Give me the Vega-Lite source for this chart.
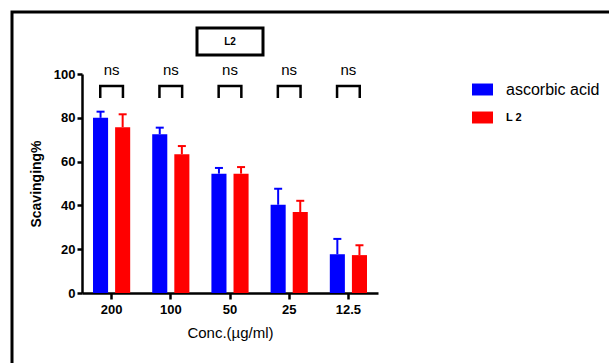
{
  "$schema": "https://vega.github.io/schema/vega-lite/v6.json",
  "autosize": {"type": "none"},
  "padding": {"left": 82, "top": 74, "right": 231, "bottom": 70},
  "width": 296,
  "height": 219,
  "background": "white",
  "config": {
    "view": {"stroke": null},
    "font": "Liberation Sans"
  },
  "datasets": {
    "bars": [
      {"conc": "200", "group": "ascorbic acid", "value": 80.0, "upper": 82.8},
      {"conc": "200", "group": "L 2", "value": 75.7, "upper": 81.6},
      {"conc": "100", "group": "ascorbic acid", "value": 72.5, "upper": 75.5},
      {"conc": "100", "group": "L 2", "value": 63.3, "upper": 67.1},
      {"conc": "50", "group": "ascorbic acid", "value": 54.5, "upper": 57.1},
      {"conc": "50", "group": "L 2", "value": 54.5, "upper": 57.5},
      {"conc": "25", "group": "ascorbic acid", "value": 40.3, "upper": 47.6},
      {"conc": "25", "group": "L 2", "value": 37.0, "upper": 42.1},
      {"conc": "12.5", "group": "ascorbic acid", "value": 17.7, "upper": 24.7},
      {"conc": "12.5", "group": "L 2", "value": 17.3, "upper": 21.8}
    ],
    "sig": [
      {"conc": "200", "label": "ns"},
      {"conc": "100", "label": "ns"},
      {"conc": "50", "label": "ns"},
      {"conc": "25", "label": "ns"},
      {"conc": "12.5", "label": "ns"}
    ],
    "box": [{"label": "L2"}]
  },
  "layer": [
    {
      "data": {"name": "bars"},
      "mark": {"type": "bar"},
      "encoding": {
        "x": {
          "field": "conc", "type": "nominal", "sort": null,
          "scale": {"paddingInner": 0.372, "paddingOuter": 0.186},
          "axis": {
            "title": "Conc.(µg/ml)",
            "labelAngle": 0,
            "labelFontSize": 13, "labelFontWeight": "bold", "labelColor": "black",
            "labelPadding": 4,
            "domainColor": "black", "domainWidth": 2.5,
            "tickColor": "black", "tickWidth": 2.5, "tickSize": 6,
            "titleFontSize": 15, "titleFontWeight": "normal", "titleColor": "black",
            "titlePadding": 9
          }
        },
        "xOffset": {"field": "group", "type": "nominal", "sort": ["ascorbic acid", "L 2"], "scale": {"paddingInner": 0.318, "paddingOuter": 0}},
        "y": {
          "field": "value", "type": "quantitative",
          "scale": {"domain": [0, 100], "nice": false},
          "axis": {
            "title": "Scavinging%",
            "values": [0, 20, 40, 60, 80, 100],
            "grid": false,
            "labelFontSize": 13, "labelFontWeight": "bold", "labelColor": "black",
            "labelPadding": 2,
            "domainColor": "black", "domainWidth": 2.5,
            "tickColor": "black", "tickWidth": 2.5, "tickSize": 5,
            "titleFontSize": 14, "titleFontWeight": "bold", "titleColor": "black",
            "titlePadding": 10
          }
        },
        "color": {
          "field": "group", "type": "nominal",
          "sort": ["ascorbic acid", "L 2"],
          "scale": {"domain": ["ascorbic acid", "L 2"], "range": ["#0000ff", "#ff0000"]},
          "legend": {
            "title": null,
            "orient": "none",
            "legendX": 390,
            "legendY": 5,
            "padding": 0,
            "symbolType": "M-1,-0.57H1V0.57H-1Z",
            "symbolSize": 441,
            "symbolStrokeWidth": 0,
            "symbolOpacity": 1,
            "labelFontSize": 16,
            "labelColor": "black",
            "labelOffset": 13,
            "rowPadding": 9,
            "encode": {
              "labels": {
                "update": {
                  "fontWeight": {"signal": "datum.label === 'L 2' ? 'bold' : 'normal'"},
                  "fontSize": {"signal": "datum.label === 'L 2' ? 11 : 16"}
                }
              }
            }
          }
        }
      }
    },
    {
      "data": {"name": "bars"},
      "mark": {"type": "rule", "strokeWidth": 2},
      "encoding": {
        "x": {"field": "conc", "type": "nominal", "sort": null},
        "xOffset": {"field": "group", "type": "nominal", "sort": ["ascorbic acid", "L 2"]},
        "y": {"field": "value", "type": "quantitative"},
        "y2": {"field": "upper"},
        "color": {"field": "group", "type": "nominal", "legend": null}
      }
    },
    {
      "data": {"name": "bars"},
      "mark": {"type": "tick", "size": 8, "thickness": 2, "orient": "horizontal", "opacity": 1},
      "encoding": {
        "x": {"field": "conc", "type": "nominal", "sort": null},
        "xOffset": {"field": "group", "type": "nominal", "sort": ["ascorbic acid", "L 2"]},
        "y": {"field": "upper", "type": "quantitative"},
        "color": {"field": "group", "type": "nominal", "legend": null}
      }
    },
    {
      "data": {"name": "sig"},
      "mark": {"type": "text", "fontSize": 15, "color": "black", "baseline": "middle", "align": "center"},
      "encoding": {
        "x": {"field": "conc", "type": "nominal", "sort": null},
        "y": {"datum": 101.8},
        "text": {"field": "label"}
      }
    },
    {
      "data": {"name": "sig"},
      "mark": {"type": "point", "shape": "M-1,0.53V-0.53H1V0.53", "size": 515, "filled": false, "stroke": "black", "strokeWidth": 2.5, "opacity": 1},
      "encoding": {
        "x": {"field": "conc", "type": "nominal", "sort": null},
        "y": {"datum": 91.8}
      }
    },
    {
      "data": {"name": "box"},
      "mark": {"type": "point", "shape": "M-1,-0.409H1V0.409H-1Z", "size": 4356, "filled": false, "stroke": "black", "strokeWidth": 3, "opacity": 1},
      "encoding": {
        "x": {"datum": "50"},
        "y": {"datum": 114.8}
      }
    },
    {
      "data": {"name": "box"},
      "mark": {"type": "text", "fontSize": 10, "fontWeight": "bold", "color": "black", "baseline": "middle", "align": "center"},
      "encoding": {
        "x": {"datum": "50"},
        "y": {"datum": 114.8},
        "text": {"field": "label"}
      }
    },
    {
      "data": {"name": "box"},
      "mark": {"type": "point", "shape": "M-2.18,1.83V-1.715H3.82", "size": 40000, "filled": false, "stroke": "black", "strokeWidth": 3, "opacity": 1},
      "encoding": {
        "x": {"datum": "50"},
        "y": {"datum": 50}
      }
    }
  ]
}
